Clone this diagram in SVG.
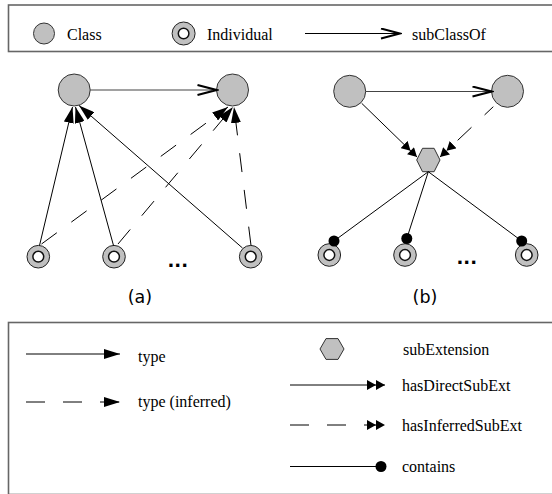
<svg xmlns="http://www.w3.org/2000/svg" width="552" height="494" viewBox="0 0 552 494">
<style>
.box{fill:none;stroke:#666;stroke-width:1.6}
.cls{fill:#c0c0c0;stroke:#333;stroke-width:1}
.ind-o{fill:#c0c0c0;stroke:#222;stroke-width:1}
.ind-i{fill:#fff;stroke:#111;stroke-width:1.5}
.hex{fill:#c0c0c0;stroke:#333;stroke-width:1}
.lbl{font-family:"Liberation Serif","Times New Roman",serif;font-size:16px;fill:#000}
.cap{font-family:"DejaVu Sans",sans-serif;font-size:17.5px;fill:#000}
.dots{font-family:"DejaVu Sans",sans-serif;font-size:18px;font-weight:bold;fill:#000}
.ln{fill:none;stroke:#000;stroke-width:1}
.sub{fill:none;stroke:#444;stroke-width:1.2}
.dash{stroke-dasharray:19 18}
</style>
<defs>
<marker id="tri" viewBox="0 0 16 10" refX="16" refY="5" markerWidth="16" markerHeight="10" orient="auto" markerUnits="userSpaceOnUse"><path d="M0,0 L16,5 L0,10 z" fill="#000"/></marker>
<marker id="dbl" viewBox="0 0 18 10" refX="18" refY="5" markerWidth="18" markerHeight="10" orient="auto" markerUnits="userSpaceOnUse"><path d="M0,0 L9,5 L0,10 z M9,0 L18,5 L9,10 z" fill="#000"/></marker>
<marker id="open" viewBox="0 0 22 12" refX="20" refY="6" markerWidth="22" markerHeight="12" orient="auto" markerUnits="userSpaceOnUse"><path d="M1,1 L20,6 L1,11" fill="none" stroke="#000" stroke-width="2"/></marker>
<marker id="dot" viewBox="0 0 12 12" refX="6" refY="6" markerWidth="12" markerHeight="12" markerUnits="userSpaceOnUse"><circle cx="6" cy="6" r="5.5" fill="#000"/></marker>
</defs>

<g id="legend-top">
<rect class="box" x="8.5" y="5" width="560" height="46.5"/>
<circle class="cls" cx="44" cy="33.5" r="10.5"/>
<text class="lbl" x="67" y="39.5">Class</text>
<circle class="ind-o" cx="183.6" cy="33.5" r="11.5"/>
<circle class="ind-i" cx="183.6" cy="33.5" r="5.3"/>
<text class="lbl" x="207" y="39.5">Individual</text>
<path class="ln" d="M305,33.5 H400" marker-end="url(#open)"/>
<text class="lbl" x="412" y="39.5">subClassOf</text>
</g>

<g id="legend-bottom">
<rect class="box" x="8.5" y="322.5" width="560" height="172"/>
<path class="ln" d="M26,354 H120" marker-end="url(#tri)"/>
<text class="lbl" x="138" y="362">type</text>
<path class="ln dash" d="M26,402 H120" marker-end="url(#tri)"/>
<text class="lbl" x="138" y="407">type (inferred)</text>
<polygon class="hex" points="320,349 326,338.6 338,338.6 344,349 338,359.4 326,359.4"/>
<text class="lbl" x="403" y="355">subExtension</text>
<path class="ln" d="M290,385 H385" marker-end="url(#dbl)"/>
<text class="lbl" x="402" y="390.5">hasDirectSubExt</text>
<path class="ln dash" d="M290,425 H385" marker-end="url(#dbl)"/>
<text class="lbl" x="402" y="430.5">hasInferredSubExt</text>
<path class="ln" d="M290,466.5 H381" marker-end="url(#dot)"/>
<text class="lbl" x="402" y="471.5">contains</text>
</g>

<g id="a-class1"><circle class="cls" cx="74.2" cy="90" r="16"/></g>
<g id="a-class2"><circle class="cls" cx="232.5" cy="90" r="16"/></g>
<g id="a-ind1"><circle class="ind-o" cx="38.3" cy="256.7" r="11.3"/><circle class="ind-i" cx="38.3" cy="256.7" r="5.4"/></g>
<g id="a-ind2"><circle class="ind-o" cx="114" cy="256.7" r="11.3"/><circle class="ind-i" cx="114" cy="256.7" r="5.4"/></g>
<g id="a-ind3"><circle class="ind-o" cx="250.7" cy="256.7" r="11.3"/><circle class="ind-i" cx="250.7" cy="256.7" r="5.4"/></g>
<text class="dots" x="167.5" y="267">...</text>
<text class="cap" x="140" y="303" text-anchor="middle">(a)</text>

<g id="b-class1"><circle class="cls" cx="349.7" cy="91.3" r="16"/></g>
<g id="b-class2"><circle class="cls" cx="507.5" cy="91.3" r="16"/></g>
<g id="b-hex"><polygon class="hex" points="416.7,160 422.5,148.3 434.1,148.3 440,160 434.1,171.7 422.5,171.7"/></g>
<g id="b-ind1"><circle class="ind-o" cx="329.3" cy="255" r="11.3"/><circle class="ind-i" cx="329.3" cy="255" r="5.4"/></g>
<g id="b-ind2"><circle class="ind-o" cx="405" cy="255" r="11.3"/><circle class="ind-i" cx="405" cy="255" r="5.4"/></g>
<g id="b-ind3"><circle class="ind-o" cx="526.7" cy="255" r="11.3"/><circle class="ind-i" cx="526.7" cy="255" r="5.4"/></g>
<text class="dots" x="456.5" y="264">...</text>
<text class="cap" x="425" y="303" text-anchor="middle">(b)</text>

<g id="connectors">
<path class="sub" d="M90.2,90 H216.5" marker-end="url(#open)"/>
<path class="ln" d="M39.5,245.5 L72.5,107" marker-end="url(#tri)"/>
<path class="ln" d="M113.5,245.5 L75.5,107" marker-end="url(#tri)"/>
<path class="ln" d="M242.5,248 L79,105.5" marker-end="url(#tri)"/>
<path class="ln dash" d="M41.5,244 L228,107" marker-end="url(#tri)"/>
<path class="ln dash" d="M118,244 L233,107" marker-end="url(#tri)"/>
<path class="ln dash" d="M251,245.5 L234,107" marker-end="url(#tri)"/>
<path class="sub" d="M365.7,91.5 H491.5" marker-end="url(#open)"/>
<path class="ln" d="M361.7,103.3 L417,157" marker-end="url(#dbl)"/>
<path class="ln dash" style="stroke-dashoffset:7" d="M493.3,106.7 L440,157" marker-end="url(#dbl)"/>
<path class="ln" d="M428.3,171.7 L334,241" marker-end="url(#dot)"/>
<path class="ln" d="M428.3,171.7 L406.8,238.5" marker-end="url(#dot)"/>
<path class="ln" d="M428.3,171.7 L521.7,241" marker-end="url(#dot)"/>
</g>
</svg>
